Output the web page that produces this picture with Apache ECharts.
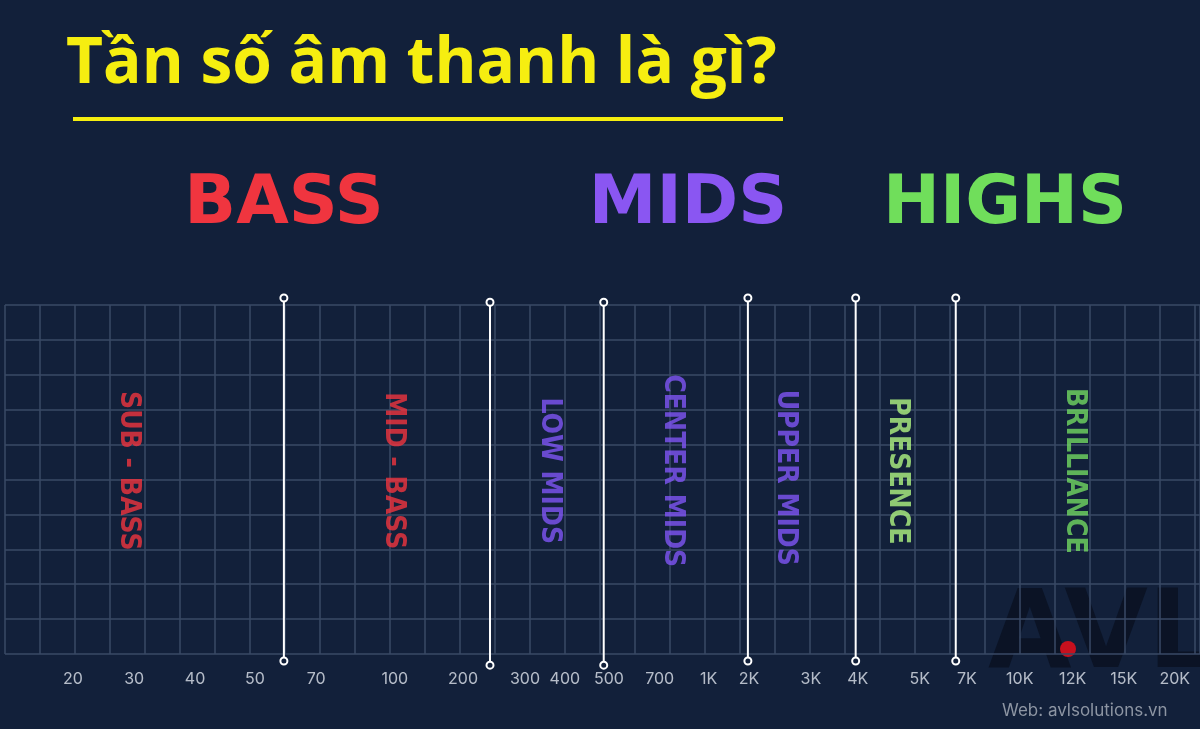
<!DOCTYPE html>
<html lang="vi">
<head>
<meta charset="UTF-8">
<script src="https://cdn.jsdelivr.net/npm/echarts@6/dist/echarts.min.js"></script>
<title>Tần số âm thanh</title>
<style>
  html, body { margin: 0; padding: 0; background: #12203a; }
  #chart { width: 1200px; height: 729px; }
</style>
</head>
<body>
<div id="chart"></div>
<script>
// positions are in grid-cell units along the frequency strip
var tickLabels = ['20','30','40','50','70','100','200','300','400','500','700','1K','2K','3K','4K','5K','7K','10K','12K','15K','20K'];
var tickPos = [1.94,3.69,5.43,7.14,8.89,11.14,13.09,14.86,16.0,17.26,18.71,20.11,21.26,23.03,24.37,26.14,27.49,29.0,30.51,31.97,33.43];
var boundaryPos = [7.97,13.86,17.11,21.23,24.31,27.17];
var boundaryTop = [10.2,10.08,10.08,10.2,10.2,10.2];
var boundaryBottom = [-0.2,-0.32,-0.32,-0.2,-0.2,-0.2];
var bandNames = ['SUB - BASS','MID - BASS','LOW MIDS','CENTER MIDS','UPPER MIDS','PRESENCE','BRILLIANCE'];
var bandPos = [3.52,11.11,15.54,19.06,22.29,25.51,30.57];
var bandY = [5.25,5.25,5.25,5.25,5.05,5.25,5.25];
var bandColors = ['#f0343e','#f0343e','#8055f5','#8055f5','#8055f5','#b0f582','#72d862'];
var groupNames = ['BASS','MIDS','HIGHS'];
var groupColors = ['#f0353f','#8a56f2','#70de5b'];
var groupX = [284,688,1005];

var series = [];
boundaryPos.forEach(function (x, i) {
  series.push({
    type: 'line', clip: false, silent: true,
    data: [[x, boundaryBottom[i]], [x, boundaryTop[i]]],
    symbol: 'circle', symbolSize: 7,
    itemStyle: { color: '#12203a', borderColor: '#ffffff', borderWidth: 2 },
    lineStyle: { color: '#ffffff', width: 2 }
  });
});
series.push({
  type: 'scatter', clip: false, silent: true, symbolSize: 0,
  data: tickLabels.map(function (t, i) { return { value: [tickPos[i], -0.72], name: t }; }),
  label: { show: true, formatter: '{b}', color: '#dfe4ec', fontSize: 16, fontFamily: 'Inter' }
});
series.push({
  type: 'scatter', clip: false, silent: true, symbolSize: 0,
  data: bandNames.map(function (t, i) {
    return { value: [bandPos[i], bandY[i]], name: t, label: { color: bandColors[i] } };
  }),
  label: { show: true, formatter: '{b}', rotate: -90, fontSize: 28, fontWeight: 'bold',
           fontFamily: '"DejaVu Sans Condensed", sans-serif' }
});

var graphic = [
  { type: 'text', left: 66, top: 33, style: { text: 'Tần số âm thanh là gì?', fill: '#f6ee10',
    font: 'bold 64px "Open Sans", sans-serif' } },
  { type: 'rect', shape: { x: 73, y: 117, width: 710, height: 4 }, style: { fill: '#f6ee10' } },
  { type: 'text', left: 988, top: 585, z: -1, style: { text: 'AVL', fill: 'rgba(5,10,20,0.55)',
    font: '900 108px "DejaVu Sans", sans-serif' } },
  { type: 'circle', shape: { cx: 1068, cy: 649, r: 8 }, style: { fill: '#c8101e' } },
  { type: 'text', left: 1002, top: 702, style: { text: 'Web: avlsolutions.vn', fill: '#8d95a3',
    font: '17px Inter, sans-serif' } }
];
groupNames.forEach(function (g, i) {
  graphic.push({ type: 'text', x: groupX[i], y: 205, style: { text: g, fill: groupColors[i],
    font: '900 68px "DejaVu Sans", sans-serif', align: 'center', verticalAlign: 'middle' } });
});

var chart = echarts.init(document.getElementById('chart'));
chart.setOption({
  backgroundColor: '#12203a',
  animation: false,
  grid: { left: 5, right: 0, top: 305, bottom: 75 },
  xAxis: { type: 'value', min: 0, max: 34.15, interval: 1,
    axisLine: { show: false }, axisTick: { show: false }, axisLabel: { show: false },
    splitLine: { show: true, lineStyle: { color: '#3a4a66', width: 1.5 } } },
  yAxis: { type: 'value', min: 0, max: 10, interval: 1,
    axisLine: { show: false }, axisTick: { show: false }, axisLabel: { show: false },
    splitLine: { show: true, lineStyle: { color: '#3a4a66', width: 1.5 } } },
  graphic: graphic,
  series: series
});
</script>
</body>
</html>
